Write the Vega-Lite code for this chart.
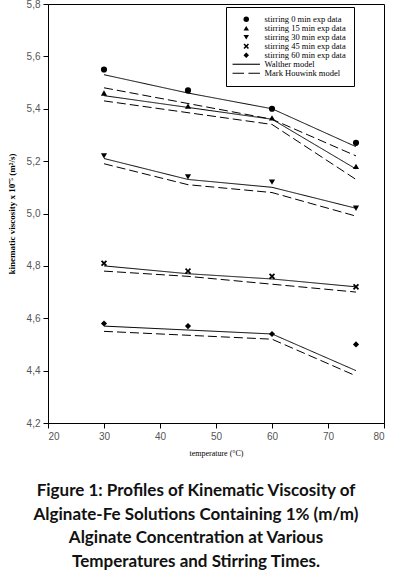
{
  "$schema": "https://vega.github.io/schema/vega-lite/v6.json",
  "width": 336,
  "height": 419,
  "autosize": "none",
  "padding": {"left": 48, "top": 4, "right": 11, "bottom": 148},
  "background": "white",
  "config": {
    "view": {"stroke": "black", "strokeWidth": 1},
    "axis": {"grid": false, "domainColor": "black", "tickColor": "black", "labelFont": "Liberation Sans", "labelFontSize": 10, "labelColor": "#555555", "tickSize": 5, "labelPadding": 3}
  },
  "title": {
    "text": ["Figure 1: Profiles of Kinematic Viscosity of", "Alginate-Fe Solutions Containing 1% (m/m)", "Alginate Concentration at Various", "Temperatures and Stirring Times."],
    "orient": "bottom",
    "anchor": "middle",
    "font": "Lato",
    "fontWeight": "bold",
    "fontSize": 17,
    "lineHeight": 23.5,
    "color": "#111111",
    "offset": 26,
    "dx": -20
  },
  "datasets": {
    "points": [
      {"t": 30, "v": 5.55, "series": "stirring 0 min exp data"},
      {"t": 45, "v": 5.47, "series": "stirring 0 min exp data"},
      {"t": 60, "v": 5.40, "series": "stirring 0 min exp data"},
      {"t": 75, "v": 5.27, "series": "stirring 0 min exp data"},
      {"t": 30, "v": 5.46, "series": "stirring 15 min exp data"},
      {"t": 45, "v": 5.41, "series": "stirring 15 min exp data"},
      {"t": 60, "v": 5.365, "series": "stirring 15 min exp data"},
      {"t": 75, "v": 5.18, "series": "stirring 15 min exp data"},
      {"t": 30, "v": 5.22, "series": "stirring 30 min exp data"},
      {"t": 45, "v": 5.14, "series": "stirring 30 min exp data"},
      {"t": 60, "v": 5.12, "series": "stirring 30 min exp data"},
      {"t": 75, "v": 5.02, "series": "stirring 30 min exp data"},
      {"t": 30, "v": 4.81, "series": "stirring 45 min exp data"},
      {"t": 45, "v": 4.78, "series": "stirring 45 min exp data"},
      {"t": 60, "v": 4.76, "series": "stirring 45 min exp data"},
      {"t": 75, "v": 4.72, "series": "stirring 45 min exp data"},
      {"t": 30, "v": 4.58, "series": "stirring 60 min exp data"},
      {"t": 45, "v": 4.57, "series": "stirring 60 min exp data"},
      {"t": 60, "v": 4.54, "series": "stirring 60 min exp data"},
      {"t": 75, "v": 4.50, "series": "stirring 60 min exp data"}
    ],
    "models": [
      {"t": 30, "v": 5.53, "group": "0W", "model": "Walther model"},
      {"t": 45, "v": 5.46, "group": "0W", "model": "Walther model"},
      {"t": 60, "v": 5.40, "group": "0W", "model": "Walther model"},
      {"t": 75, "v": 5.255, "group": "0W", "model": "Walther model"},
      {"t": 30, "v": 5.48, "group": "0M", "model": "Mark Houwink model"},
      {"t": 45, "v": 5.42, "group": "0M", "model": "Mark Houwink model"},
      {"t": 60, "v": 5.36, "group": "0M", "model": "Mark Houwink model"},
      {"t": 75, "v": 5.22, "group": "0M", "model": "Mark Houwink model"},
      {"t": 30, "v": 5.45, "group": "15W", "model": "Walther model"},
      {"t": 45, "v": 5.405, "group": "15W", "model": "Walther model"},
      {"t": 60, "v": 5.36, "group": "15W", "model": "Walther model"},
      {"t": 75, "v": 5.17, "group": "15W", "model": "Walther model"},
      {"t": 30, "v": 5.43, "group": "15M", "model": "Mark Houwink model"},
      {"t": 45, "v": 5.385, "group": "15M", "model": "Mark Houwink model"},
      {"t": 60, "v": 5.34, "group": "15M", "model": "Mark Houwink model"},
      {"t": 75, "v": 5.13, "group": "15M", "model": "Mark Houwink model"},
      {"t": 30, "v": 5.21, "group": "30W", "model": "Walther model"},
      {"t": 45, "v": 5.13, "group": "30W", "model": "Walther model"},
      {"t": 60, "v": 5.10, "group": "30W", "model": "Walther model"},
      {"t": 75, "v": 5.02, "group": "30W", "model": "Walther model"},
      {"t": 30, "v": 5.19, "group": "30M", "model": "Mark Houwink model"},
      {"t": 45, "v": 5.11, "group": "30M", "model": "Mark Houwink model"},
      {"t": 60, "v": 5.08, "group": "30M", "model": "Mark Houwink model"},
      {"t": 75, "v": 4.99, "group": "30M", "model": "Mark Houwink model"},
      {"t": 30, "v": 4.80, "group": "45W", "model": "Walther model"},
      {"t": 45, "v": 4.77, "group": "45W", "model": "Walther model"},
      {"t": 60, "v": 4.75, "group": "45W", "model": "Walther model"},
      {"t": 75, "v": 4.72, "group": "45W", "model": "Walther model"},
      {"t": 30, "v": 4.78, "group": "45M", "model": "Mark Houwink model"},
      {"t": 45, "v": 4.76, "group": "45M", "model": "Mark Houwink model"},
      {"t": 60, "v": 4.73, "group": "45M", "model": "Mark Houwink model"},
      {"t": 75, "v": 4.70, "group": "45M", "model": "Mark Houwink model"},
      {"t": 30, "v": 4.57, "group": "60W", "model": "Walther model"},
      {"t": 45, "v": 4.555, "group": "60W", "model": "Walther model"},
      {"t": 60, "v": 4.54, "group": "60W", "model": "Walther model"},
      {"t": 75, "v": 4.40, "group": "60W", "model": "Walther model"},
      {"t": 30, "v": 4.55, "group": "60M", "model": "Mark Houwink model"},
      {"t": 45, "v": 4.535, "group": "60M", "model": "Mark Houwink model"},
      {"t": 60, "v": 4.52, "group": "60M", "model": "Mark Houwink model"},
      {"t": 75, "v": 4.38, "group": "60M", "model": "Mark Houwink model"}
    ]
  },
  "encoding": {
    "x": {
      "field": "t", "type": "quantitative",
      "scale": {"domain": [20, 80], "nice": false, "zero": false},
      "axis": {"values": [20, 30, 40, 50, 60, 70, 80], "title": "temperature (°C)", "titleFont": "Liberation Serif", "titleFontSize": 8, "titleFontWeight": "normal", "titlePadding": 8}
    },
    "y": {
      "field": "v", "type": "quantitative",
      "scale": {"domain": [4.2, 5.8], "nice": false, "zero": false},
      "axis": {"values": [4.2, 4.4, 4.6, 4.8, 5.0, 5.2, 5.4, 5.6, 5.8], "labelExpr": "replace(format(datum.value, '.1f'), '.', ',')", "title": "kinematic viscosity x 10⁻⁵ (m²/s)", "titleFont": "Liberation Serif", "titleFontSize": 9, "titleFontWeight": "bold", "titlePadding": 10}
    }
  },
  "layer": [
    {
      "data": {"name": "models"},
      "mark": {"type": "line", "color": "black", "strokeWidth": 1},
      "encoding": {
        "detail": {"field": "group"},
        "strokeDash": {"field": "model", "type": "nominal", "scale": {"domain": ["Walther model", "Mark Houwink model"], "range": [[1, 0], [9, 4]]}, "legend": null}
      }
    },
    {
      "data": {"name": "points"},
      "mark": {"type": "point", "filled": true, "color": "black", "opacity": 1, "size": 38},
      "encoding": {
        "shape": {
          "field": "series", "type": "nominal",
          "scale": {
            "domain": ["stirring 0 min exp data", "stirring 15 min exp data", "stirring 30 min exp data", "stirring 45 min exp data", "stirring 60 min exp data", "Walther model", "Mark Houwink model"],
            "range": ["circle", "triangle-up", "triangle-down", "M-1,-0.6L-0.6,-1L0,-0.4L0.6,-1L1,-0.6L0.4,0L1,0.6L0.6,1L0,0.4L-0.6,1L-1,0.6L-0.4,0Z", "diamond", "M-5,-0.2L5,-0.2L5,0.2L-5,0.2Z", "M-5,-0.2L-0.8,-0.2L-0.8,0.2L-5,0.2ZM0.8,-0.2L5,-0.2L5,0.2L0.8,0.2Z"]
          },
          "legend": {
            "title": null,
            "orient": "none",
            "legendX": 178,
            "legendY": 3,
            "strokeColor": "black",
            "padding": 8,
            "fillColor": "white",
            "labelFont": "Liberation Serif",
            "labelFontSize": 8.5,
            "labelColor": "black",
            "symbolSize": 30,
            "symbolFillColor": "black",
            "symbolStrokeColor": "black",
            "symbolStrokeWidth": 0.5,
            "symbolOpacity": 1,
            "symbolOffset": 8,
            "rowPadding": 0,
            "labelOffset": 14,
            "offset": 0,
            "encode": {
              "symbols": {"update": {"fill": {"value": "black"}, "opacity": {"value": 1}, "fillOpacity": {"value": 1}}},
              "labels": {"update": {"fill": {"value": "black"}}}
            }
          }
        }
      }
    }
  ]
}
